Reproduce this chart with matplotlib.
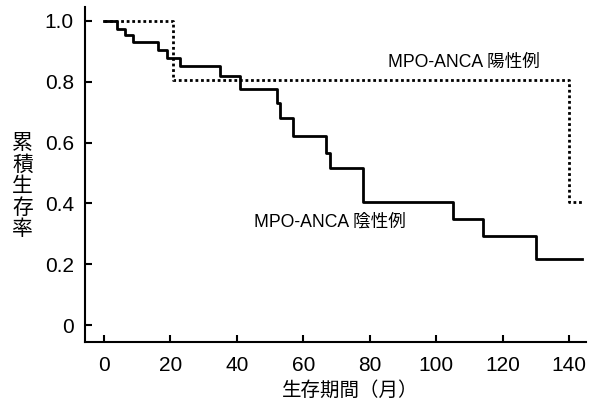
import matplotlib
matplotlib.use('Agg')
import matplotlib.pyplot as plt

plt.rcParams['font.family'] = ['Liberation Sans', 'Noto Sans CJK JP', 'DejaVu Sans']

# MPO-ANCA negative (solid) Kaplan-Meier steps
neg_months = [0, 3.8, 6.3, 8.8, 16.3, 19.0, 22.9, 35.0, 40.8, 52.0, 53.0, 56.8,
              66.9, 67.9, 77.8, 105.0, 114.0, 130.0, 144.0]
neg_surv = [1.0, 0.973, 0.955, 0.932, 0.905, 0.877, 0.853, 0.819, 0.775, 0.73, 0.68,
            0.623, 0.566, 0.515, 0.403, 0.349, 0.294, 0.217, 0.217]

# MPO-ANCA positive (dotted)
pos_months = [0, 20.9, 140.0, 144.0]
pos_surv = [1.0, 0.805, 0.405, 0.405]

xticks = [0, 20, 40, 60, 80, 100, 120, 140]
yticks = [0, 0.2, 0.4, 0.6, 0.8, 1.0]
ytick_labels = ['0', '0.2', '0.4', '0.6', '0.8', '1.0']

fig = plt.figure(figsize=(5.99, 4.03), dpi=100)
ax = fig.add_axes([0.142, 0.151, 0.836, 0.832])

ax.step(neg_months, neg_surv, where='post', color='black', lw=2.0)
ax.step(pos_months, pos_surv, where='post', color='black', lw=2.0,
        linestyle=(0, (1, 1)))

ax.set_xlim(-5.7, 145)
ax.set_ylim(-0.056, 1.046)
ax.set_xticks(xticks)
ax.set_yticks(yticks)
ax.set_yticklabels(ytick_labels)
ax.tick_params(direction='in', length=5, width=1.5, labelsize=15)
ax.tick_params(axis='x', pad=10)
ax.tick_params(axis='y', pad=8)

for side in ['top', 'right']:
    ax.spines[side].set_visible(False)
for side in ['left', 'bottom']:
    ax.spines[side].set_linewidth(1.5)

ax.text(108.4, 0.862, 'MPO-ANCA 陽性例', fontsize=12.7, ha='center', va='center')
ax.text(68, 0.337, 'MPO-ANCA 陰性例', fontsize=12.7, ha='center', va='center')

# x label (full-width parentheses)
fig.text(0.5846, 1 - 390 / 403, '生存期間（月）', fontsize=14, ha='center', va='center')

# vertical stacked y label
ylabel = '累積生存率'
for i, ch in enumerate(ylabel):
    fig.text(0.038, 1 - (143.7 + i * 21.4) / 403, ch, fontsize=15,
             ha='center', va='center')

fig.savefig('out.png', dpi=100)
